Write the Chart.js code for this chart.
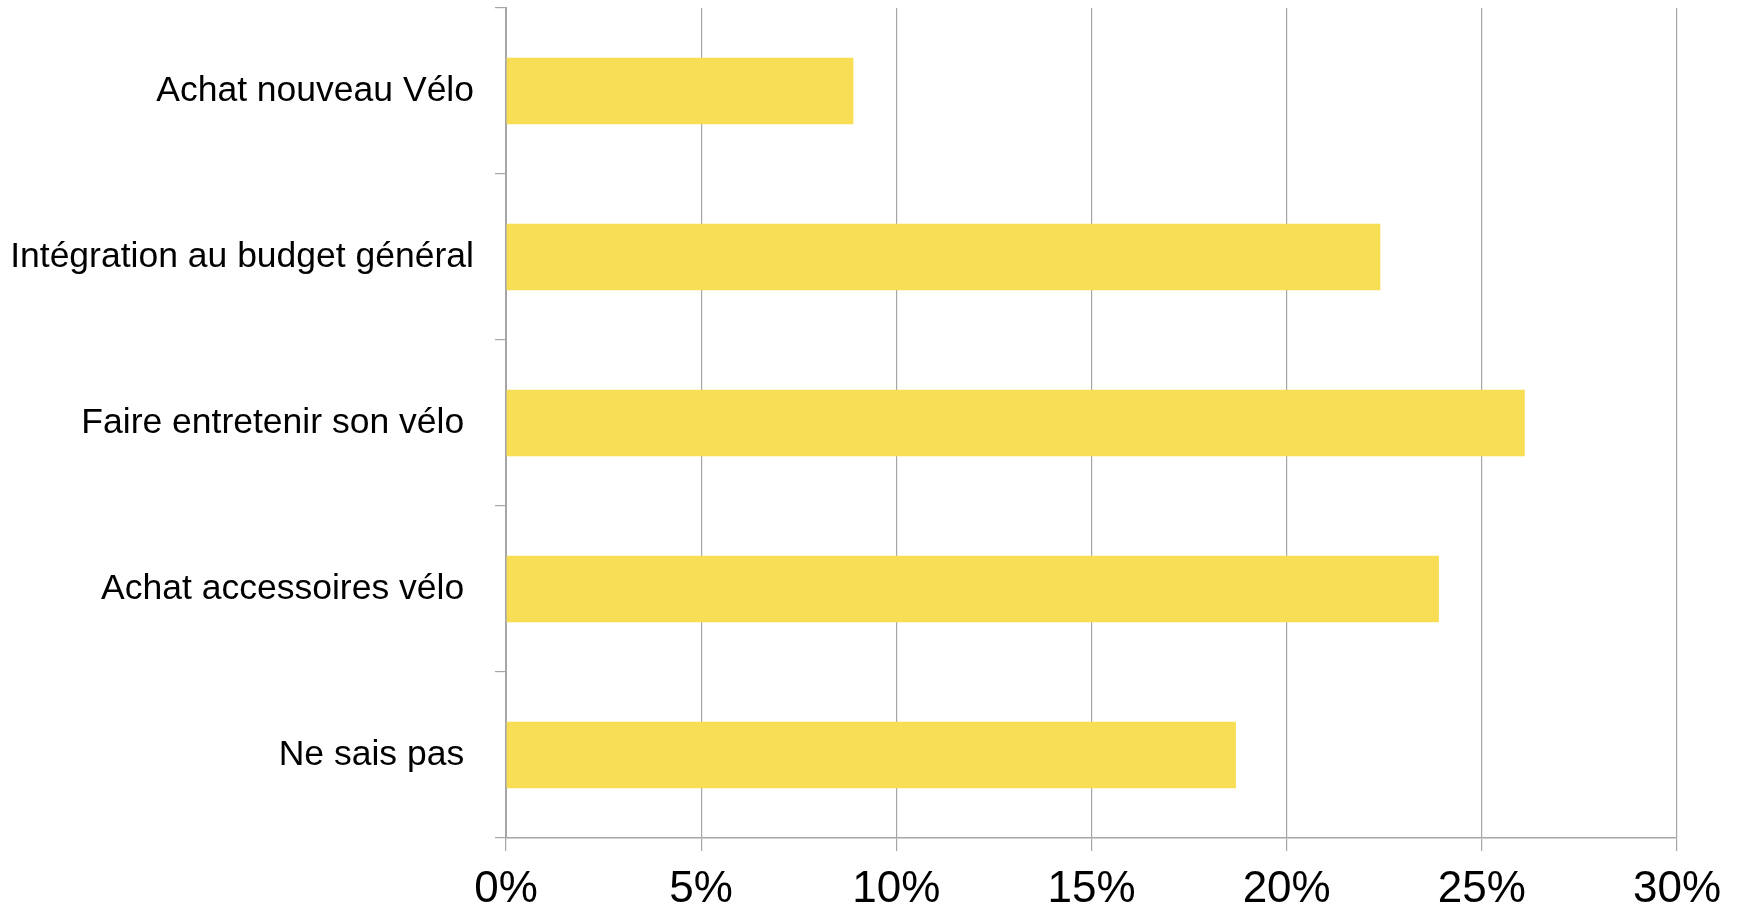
<!DOCTYPE html>
<html>
<head>
<meta charset="utf-8">
<script src="https://cdn.jsdelivr.net/npm/chart.js@4/dist/chart.umd.min.js"></script>
<style>
  html, body { margin: 0; padding: 0; background: #ffffff; }
  #wrap { width: 1738px; height: 913px; position: relative; }
</style>
</head>
<body>
<div id="wrap"><canvas id="c" width="1738" height="913"></canvas></div>
<script>
const categories = [
  "Achat nouveau Vélo",
  "Intégration au budget général",
  "Faire entretenir son vélo ",
  "Achat accessoires vélo ",
  "Ne sais pas "
];
const values = [8.9, 22.4, 26.1, 23.9, 18.7];
const tickValues = [0, 5, 10, 15, 20, 25, 30];
const tickSuffix = "%";

const gridColor = "#a6a6a6";
const barColor = "#f8de55";

new Chart(document.getElementById("c"), {
  type: "bar",
  data: {
    labels: categories,
    datasets: [{
      data: values,
      backgroundColor: barColor,
      borderWidth: 0,
      categoryPercentage: 1.0,
      barPercentage: 0.4
    }]
  },
  options: {
    indexAxis: "y",
    responsive: false,
    animation: false,
    devicePixelRatio: 1,
    layout: { padding: { top: 8, right: 61, bottom: 0, left: 0 } },
    plugins: { legend: { display: false }, tooltip: { enabled: false } },
    scales: {
      x: {
        position: "bottom",
        min: tickValues[0],
        max: tickValues[tickValues.length - 1],
        afterBuildTicks: (s) => { s.ticks = tickValues.map(v => ({ value: v })); },
        afterFit: (s) => { s.height = 75; s.paddingLeft = 0; s.paddingRight = 0; },
        ticks: {
          color: "#000000",
          font: { family: "'Liberation Sans', Arial, sans-serif", size: 44 },
          padding: 12,
          maxRotation: 0,
          callback: (v) => v + tickSuffix
        },
        grid: {
          color: gridColor,
          lineWidth: 1.2,
          drawTicks: true,
          tickLength: 13
        },
        border: { color: gridColor, width: 1.5 }
      },
      y: {
        position: "left",
        afterFit: (s) => { s.width = 506; s.paddingTop = 0; s.paddingBottom = 0; },
        ticks: {
          color: "#000000",
          font: { family: "'Liberation Sans', Arial, sans-serif", size: 35.5 },
          padding: 21
        },
        grid: {
          color: gridColor,
          lineWidth: 1.2,
          offset: true,
          drawOnChartArea: false,
          drawTicks: true,
          tickLength: 11
        },
        border: { color: gridColor, width: 2 }
      }
    }
  }
});
</script>
</body>
</html>
